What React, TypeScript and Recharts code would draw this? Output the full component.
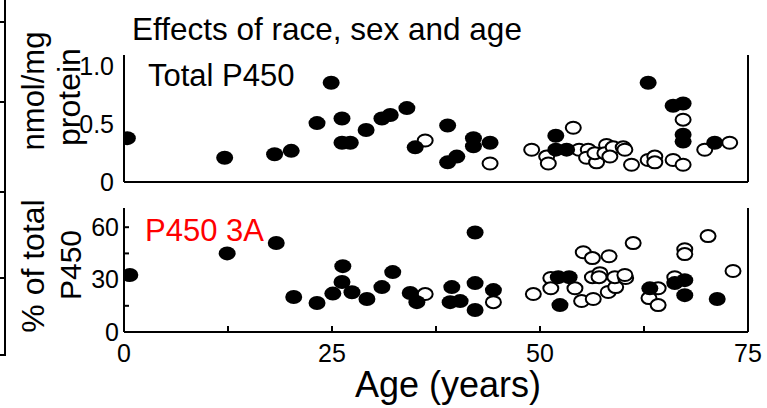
import React from "react";
import { ScatterChart, Scatter, XAxis, YAxis } from "recharts";

// Total P450 (nmol/mg protein)
const totalFilledAge = [0.4, 12.1, 18.1, 20.1, 23.2, 24.9, 26.2, 26.2, 27.2, 29.1, 31, 32, 34, 35, 38.9, 38.9, 40, 42, 42, 44, 51.9, 51.9, 53.2, 63, 66, 67.2, 67.2, 67.2, 71];
const totalFilledValue = [0.38, 0.21, 0.24, 0.27, 0.51, 0.86, 0.55, 0.34, 0.34, 0.45, 0.55, 0.58, 0.64, 0.3, 0.49, 0.17, 0.22, 0.38, 0.31, 0.34, 0.4, 0.28, 0.28, 0.86, 0.66, 0.68, 0.41, 0.35, 0.34];
const totalOpenAge = [36.2, 44, 49, 50.8, 51, 54, 54.7, 55.8, 55.6, 56.8, 56.6, 58, 57.8, 58.8, 58.4, 60, 60.2, 61, 63, 63.8, 63.8, 67.2, 66, 67.2, 69.8, 72.8];
const totalOpenValue = [0.36, 0.16, 0.28, 0.22, 0.16, 0.47, 0.28, 0.28, 0.21, 0.17, 0.25, 0.32, 0.25, 0.3, 0.22, 0.3, 0.28, 0.15, 0.19, 0.22, 0.17, 0.54, 0.19, 0.15, 0.28, 0.34];

// P450 3A (% of total P450)
const cyp3aFilledAge = [0.7, 12.4, 18.3, 20.4, 23.2, 25.1, 26.3, 26.2, 27.4, 29.2, 31, 32.3, 34.4, 35.2, 39.4, 39.2, 40.4, 42.2, 42.2, 42.2, 44.4, 52.2, 53.5, 52.4, 63.2, 66.2, 67.4, 67.4, 71.3];
const cyp3aFilledValue = [32.6, 45, 51, 20, 16.6, 22, 37.7, 28.6, 22.8, 18.9, 25.7, 34.3, 22.3, 17.1, 25.7, 17.1, 17.7, 57, 28, 12.6, 24, 31.4, 31.4, 15.4, 25, 28, 29.7, 21.1, 18.9];
const cyp3aOpenAge = [36.2, 44.4, 49.2, 51.3, 51.3, 54.2, 55.2, 56.3, 58.3, 55, 56.4, 56.3, 57.2, 57.1, 58.2, 59.1, 59, 60.3, 60.2, 61.2, 64.2, 63.1, 64.2, 66.2, 67.4, 67.4, 70.2, 73.2];
const cyp3aOpenValue = [21.7, 17.1, 21.7, 30.9, 25, 25, 45.7, 42.3, 43.4, 17.7, 18.9, 31.4, 33.7, 31.4, 22.9, 25.7, 31.4, 30.9, 32.6, 50.9, 25, 19.4, 15.4, 31.4, 47.4, 44.6, 54.9, 34.9];

const ageTicks = [0, 12.5, 25, 37.5, 50, 62.5, 75];
const ageLabels = [0, 25, 50, 75];
const totalTicks = [0, 0.5, 1.0];
const cyp3aTicks = [0, 15, 30, 45, 60];
const cyp3aLabels = [0, 30, 60];

const zip = (xs: number[], ys: number[]) => xs.map((x, i) => ({ age: x, value: ys[i] }));

const FONT = "'Liberation Sans', Arial, Helvetica, sans-serif";
const W = 767;
const H = 408;

const FilledDot = (p: any) => <ellipse cx={p.cx} cy={p.cy} rx={8.5} ry={7} fill="#000" />;
const OpenDot = (p: any) => (
  <ellipse cx={p.cx} cy={p.cy} rx={7.5} ry={6} fill="#fff" stroke="#000" strokeWidth={2} />
);

const tickStyle = { fill: "#000", fontSize: 25, fontFamily: FONT };
const line = { stroke: "#000", strokeWidth: 2 };

function TopPanel() {
  return (
    <ScatterChart width={W} height={H} margin={{ top: 55, right: 18, bottom: 216, left: 64 }}>
      <XAxis dataKey="age" type="number" domain={[0, 75]} ticks={ageTicks} allowDataOverflow
        height={10} axisLine={line} tickLine={line} tickSize={-6} tick={false} />
      <XAxis xAxisId="top" orientation="top" type="number" domain={[0, 75]} ticks={ageTicks} allowDataOverflow
        height={0} axisLine={line} tickLine={line} tickSize={-6} tick={false} />
      <YAxis dataKey="value" type="number" domain={[0, 1.1]} ticks={totalTicks} allowDataOverflow
        width={60} axisLine={line} tickLine={false} tickMargin={4} tick={tickStyle}
        tickFormatter={(v: number) => (v === 0 ? "0" : v.toFixed(1))} />
      <YAxis yAxisId="right" orientation="right" type="number" domain={[0, 1.1]} ticks={totalTicks} allowDataOverflow
        width={1} axisLine={line} tickLine={false} tick={false} />
      <Scatter data={zip(totalOpenAge, totalOpenValue)} shape={OpenDot} isAnimationActive={false} />
      <Scatter data={zip(totalFilledAge, totalFilledValue)} shape={FilledDot} isAnimationActive={false} />
    </ScatterChart>
  );
}

function BottomPanel() {
  return (
    <ScatterChart width={W} height={H} margin={{ top: 208, right: 18, bottom: 46, left: 64 }}>
      <XAxis dataKey="age" type="number" domain={[0, 75]} ticks={ageTicks} allowDataOverflow
        height={30} axisLine={line} tickLine={line} tickSize={-6} tickMargin={18} tick={tickStyle}
        tickFormatter={(v: number) => (ageLabels.includes(v) ? String(v) : "")} />
      <XAxis xAxisId="top" orientation="top" type="number" domain={[0, 75]} ticks={ageTicks} allowDataOverflow
        height={0} axisLine={line} tickLine={line} tickSize={-6} tick={false} />
      <YAxis dataKey="value" type="number" domain={[0, 71]} ticks={cyp3aTicks} allowDataOverflow
        width={60} axisLine={line} tickLine={line} tickSize={-5} tickMargin={10} tick={tickStyle}
        tickFormatter={(v: number) => (cyp3aLabels.includes(v) ? String(v) : "")} />
      <YAxis yAxisId="right" orientation="right" type="number" domain={[0, 71]} ticks={cyp3aTicks} allowDataOverflow
        width={1} axisLine={line} tickLine={line} tickSize={-5} tick={false} />
      <Scatter data={zip(cyp3aOpenAge, cyp3aOpenValue)} shape={OpenDot} isAnimationActive={false} />
      <Scatter data={zip(cyp3aFilledAge, cyp3aFilledValue)} shape={FilledDot} isAnimationActive={false} />
    </ScatterChart>
  );
}

export default function App() {
  const layer: React.CSSProperties = { position: "absolute", left: 0, top: 0 };
  return (
    <div style={{ position: "absolute", left: 0, top: 0, width: W, height: H, background: "#fff", overflow: "hidden" }}>
      <div style={layer}><TopPanel /></div>
      <div style={layer}><BottomPanel /></div>
      <svg width={W} height={H} style={{ ...layer, pointerEvents: "none" }} fontFamily={FONT}>
        {/* edge of the neighbouring figure */}
        <path d="M5 0 V355 H0 M0 22 H5 M0 102 H5 M0 192 H5 M0 278 H5" stroke="#000" strokeWidth={2} fill="none" />
        <text x={132} y={40} fontSize={31.5}>Effects of race, sex and age</text>
        <text x={148} y={86} fontSize={31}>Total P450</text>
        <text x={145} y={241} fontSize={31} fill="#ff0000">P450 3A</text>
        <text transform="translate(44,91) rotate(-90)" textAnchor="middle" fontSize={31}>nmol/mg</text>
        <text transform="translate(80,97) rotate(-90)" textAnchor="middle" fontSize={32}>protein</text>
        <text transform="translate(44,266) rotate(-90)" textAnchor="middle" fontSize={32}>% of total</text>
        <text transform="translate(81,265) rotate(-90)" textAnchor="middle" fontSize={30}>P450</text>
        <text x={448} y={397} textAnchor="middle" fontSize={36}>Age (years)</text>
      </svg>
    </div>
  );
}
